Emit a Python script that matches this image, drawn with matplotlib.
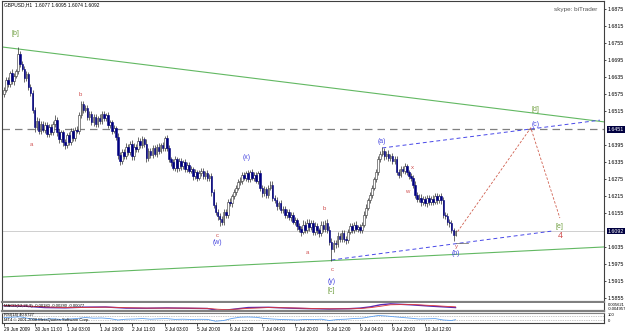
import matplotlib
matplotlib.use("Agg")
import matplotlib.pyplot as plt
import numpy as np
from matplotlib.transforms import blended_transform_factory

plt.rcParams['font.family'] = ['Liberation Sans', 'DejaVu Sans']

# ---------------- data (GBPUSD H1) ----------------
open0 = 1.6575
closes = [
    1.6590, 1.6625, 1.6610, 1.6650, 1.6620, 1.6640, 1.6655, 1.6715, 1.6680, 1.6665,
    1.6630, 1.6645, 1.6600, 1.6580, 1.6520, 1.6460, 1.6480, 1.6445, 1.6470, 1.6450,
    1.6465, 1.6435, 1.6460, 1.6440, 1.6470, 1.6485, 1.6440, 1.6415, 1.6440, 1.6405,
    1.6395, 1.6430, 1.6405, 1.6445, 1.6420, 1.6450, 1.6445, 1.6500, 1.6540, 1.6520,
    1.6525, 1.6495, 1.6505, 1.6475, 1.6495, 1.6470, 1.6490, 1.6480, 1.6505, 1.6490,
    1.6500, 1.6465, 1.6475, 1.6445, 1.6455, 1.6425, 1.6360, 1.6340, 1.6370, 1.6355,
    1.6390, 1.6370, 1.6400, 1.6355, 1.6390, 1.6380, 1.6410, 1.6395, 1.6415, 1.6400,
    1.6350, 1.6375, 1.6360, 1.6385, 1.6365, 1.6390, 1.6375, 1.6395, 1.6385, 1.6420,
    1.6385, 1.6345, 1.6335, 1.6315, 1.6345, 1.6315, 1.6340, 1.6320, 1.6335, 1.6310,
    1.6325, 1.6305, 1.6310, 1.6285, 1.6300, 1.6280, 1.6295, 1.6305, 1.6285, 1.6295,
    1.6280, 1.6285, 1.6230, 1.6185, 1.6160, 1.6145, 1.6135, 1.6125, 1.6160, 1.6150,
    1.6195, 1.6190, 1.6215, 1.6230, 1.6245, 1.6265, 1.6270, 1.6290, 1.6280, 1.6295,
    1.6275, 1.6300, 1.6280, 1.6290, 1.6270, 1.6295, 1.6245, 1.6225, 1.6240, 1.6220,
    1.6245, 1.6255, 1.6210, 1.6200, 1.6180, 1.6190, 1.6165, 1.6170, 1.6150, 1.6160,
    1.6140, 1.6150, 1.6125, 1.6130, 1.6110, 1.6100, 1.6090, 1.6115, 1.6095, 1.6120,
    1.6105, 1.6120, 1.6090, 1.6110, 1.6095, 1.6085, 1.6115, 1.6100, 1.6120, 1.6095,
    1.6055, 1.6030, 1.6050, 1.6045, 1.6075, 1.6065, 1.6085, 1.6065, 1.6060, 1.6090,
    1.6110, 1.6095, 1.6115, 1.6100, 1.6105, 1.6095, 1.6115, 1.6150, 1.6175, 1.6200,
    1.6220, 1.6245, 1.6275, 1.6300, 1.6345, 1.6365, 1.6375, 1.6355, 1.6365, 1.6350,
    1.6355, 1.6340, 1.6345, 1.6300, 1.6290, 1.6310, 1.6305, 1.6320, 1.6300, 1.6285,
    1.6280, 1.6255, 1.6220, 1.6205, 1.6210, 1.6195, 1.6205, 1.6190, 1.6210, 1.6195,
    1.6205, 1.6195, 1.6215, 1.6200, 1.6215, 1.6200, 1.6150, 1.6145, 1.6125, 1.6120,
    1.6095, 1.6077, 1.6092,
]
# upper / lower wick lengths in pips
wick_up = [
    9, 11, 10, 8, 13, 10, 9, 27, 11, 10,
    9, 11, 8, 10, 9, 11, 13, 10, 9, 11,
    10, 12, 9, 11, 10, 15, 9, 11, 10, 8,
    11, 9, 12, 10, 11, 9, 13, 11, 10, 12,
    10, 11, 9, 12, 10, 11, 9, 13, 10, 11,
    9, 11, 8, 10, 12, 9, 14, 11, 10, 13,
    11, 10, 9, 12, 11, 10, 13, 11, 12, 10,
    15, 10, 11, 9, 12, 10, 11, 9, 10, 6,
    12, 11, 9, 10, 12, 9, 11, 10, 9, 11,
    10, 9, 11, 8, 10, 9, 11, 10, 9, 10,
    11, 9, 13, 11, 10, 9, 11, 10, 9, 11,
    10, 12, 9, 11, 10, 9, 12, 11, 10, 8,
    11, 8, 12, 9, 11, 8, 14, 10, 11, 9,
    11, 13, 15, 10, 11, 9, 10, 11, 9, 10,
    10, 9, 11, 10, 9, 11, 10, 16, 11, 13,
    14, 10, 11, 13, 10, 9, 14, 11, 12, 13,
    14, 13, 11, 10, 12, 9, 11, 10, 9, 11,
    12, 11, 10, 12, 9, 11, 10, 13, 11, 10,
    11, 10, 9, 10, 11, 10, 12, 11, 10, 12,
    9, 11, 10, 13, 11, 10, 12, 11, 10, 9,
    11, 10, 12, 9, 11, 13, 10, 11, 9, 10,
    11, 13, 12, 10, 9, 11, 13, 10, 9, 11,
    10, 8, 3,
]
wick_dn = [
    11, 9, 10, 11, 9, 13, 10, 9, 11, 10,
    11, 9, 10, 11, 13, 18, 11, 10, 12, 9,
    11, 10, 13, 9, 11, 10, 12, 11, 10, 13,
    12, 10, 11, 9, 12, 10, 9, 11, 10, 11,
    9, 11, 10, 9, 11, 10, 12, 9, 10, 11,
    10, 9, 11, 10, 9, 11, 13, 14, 11, 10,
    9, 11, 10, 13, 11, 9, 10, 11, 9, 10,
    15, 11, 10, 12, 9, 11, 10, 9, 10, 9,
    11, 10, 12, 9, 11, 13, 10, 11, 9, 10,
    11, 10, 9, 12, 10, 11, 9, 10, 11, 9,
    10, 11, 13, 12, 11, 13, 25, 13, 10, 11,
    11, 9, 12, 10, 11, 9, 10, 11, 9, 10,
    10, 11, 9, 13, 10, 11, 10, 13, 11, 10,
    10, 9, 11, 10, 13, 11, 10, 9, 12, 11,
    10, 11, 9, 12, 13, 11, 14, 10, 11, 10,
    11, 10, 13, 11, 12, 14, 10, 11, 10, 11,
    13, 45, 13, 11, 10, 12, 11, 10, 13, 11,
    10, 11, 10, 9, 12, 10, 11, 10, 11, 10,
    10, 11, 9, 10, 11, 10, 9, 11, 10, 11,
    11, 10, 12, 10, 11, 9, 10, 11, 10, 11,
    10, 11, 12, 10, 11, 13, 10, 11, 12, 10,
    11, 10, 9, 11, 10, 11, 13, 11, 10, 12,
    11, 20, 3,
]

time_ticks = [0, 15, 31, 47, 63, 79, 95, 111, 127, 143, 159, 175, 191, 207]
time_labels = ["29 Jun 2009", "30 Jun 11:00", "1 Jul 03:00", "1 Jul 19:00",
               "2 Jul 11:00", "3 Jul 03:00", "5 Jul 20:00", "6 Jul 12:00",
               "7 Jul 04:00", "7 Jul 20:00", "8 Jul 12:00", "9 Jul 04:00",
               "9 Jul 20:00", "10 Jul 12:00"]
price_ticks = [1.6875, 1.6815, 1.6755, 1.6695, 1.6635, 1.6575, 1.6515,
               1.6395, 1.6335, 1.6275, 1.6215, 1.6155,
               1.6035, 1.5975, 1.5915, 1.5855]
level_price = 1.6451
last_price = 1.6092

# trend lines: (bar index, price) endpoints
green_upper = ([-1, 295], [1.6741, 1.6477])
green_lower = ([-1, 295], [1.5930, 1.6036])
blue_upper = ([186, 293], [1.6385, 1.6483])
blue_lower = ([161, 269.4], [1.5990, 1.6092])
red_path = ([223, 259, 273.3], [1.6090, 1.6456, 1.6138])

# wave labels: (text, bar index, price, colour key, size key)
wave_labels = [
    ("[b]", 5.4, 1.6790, "g", "m"),
    ("b", 37.3, 1.6572, "r", "s"),
    ("a", 13.7, 1.6396, "r", "s"),
    ("(x)", 119.5, 1.6353, "b", "m"),
    ("c", 104.7, 1.6078, "r", "s"),
    ("(w)", 104.7, 1.6050, "b", "m"),
    ("b", 157.3, 1.6170, "r", "s"),
    ("a", 149.4, 1.6015, "r", "s"),
    ("c", 161.2, 1.5955, "r", "s"),
    ("(y)", 161.2, 1.5916, "b", "m"),
    ("[c]", 160.7, 1.5881, "g", "m"),
    ("(a)", 185.8, 1.6406, "b", "m"),
    ("x", 200.6, 1.6315, "r", "s"),
    ("w", 198.1, 1.6233, "r", "s"),
    ("y", 222.7, 1.6038, "r", "s"),
    ("(b)", 222.2, 1.6013, "b", "m"),
    ("(c)", 261.5, 1.6466, "b", "m"),
    ("[d]", 261.5, 1.6519, "g", "m"),
    ("[e]", 273.3, 1.6107, "g", "m"),
    ("4", 273.3, 1.6075, "r", "l"),
]

# indicator readings (MACD in units of 0.001)
macd_idx = [0, 10, 20, 30, 40, 50, 60, 70, 80, 90, 100, 105, 110, 120, 130,
            140, 150, 160, 170, 175, 180, 185, 190, 200, 210, 222]
macd_main = [0.5, 0.2, -0.8, -1.0, -0.5, -0.4, -1.2, -1.3, -1.1, -1.3, -1.5,
             -2.8, -2.5, -0.8, -0.6, -1.2, -1.6, -1.9, -1.6, -1.2, -0.3, 1.2,
             1.9, 1.2, 0.2, -0.8]
macd_signal = [0.6, 0.4, -0.3, -0.8, -0.7, -0.5, -0.9, -1.2, -1.2, -1.2, -1.4,
               -2.0, -2.4, -1.4, -0.8, -1.0, -1.4, -1.7, -1.7, -1.5, -0.9, 0.1,
               1.2, 1.5, 0.7, -0.3]
rsi_idx = [0, 4, 8, 12, 16, 20, 24, 28, 32, 36, 40, 44, 48, 52, 56, 60, 64, 68,
           72, 76, 80, 84, 88, 92, 96, 100, 104, 108, 112, 116, 120, 124, 128,
           132, 136, 140, 144, 148, 152, 156, 160, 164, 168, 172, 176, 180,
           184, 188, 192, 196, 200, 204, 208, 212, 216, 220, 222]
rsi_vals = [55, 58, 62, 45, 35, 38, 42, 36, 40, 45, 55, 48, 50, 44, 30, 38, 40,
            45, 38, 42, 44, 36, 38, 35, 37, 36, 18, 25, 45, 58, 60, 57, 45, 40,
            35, 33, 30, 35, 34, 38, 25, 35, 38, 45, 48, 62, 75, 70, 62, 55, 48,
            40, 42, 44, 30, 25, 33]

assert len(closes) == len(wick_up) == len(wick_dn)

# ---------------- figure ----------------
W, H = 625, 334
fig = plt.figure(figsize=(W / 100, H / 100), dpi=100)
fig.patch.set_facecolor("white")


def frac(l, t, r, b):
    return [l / W, 1 - b / H, (r - l) / W, (b - t) / H]


ax = fig.add_axes(frac(2, 1, 604, 302))
axm = fig.add_axes(frac(2, 303, 604, 311))
axr = fig.add_axes(frac(2, 313, 604, 323))

XL = (-1, 295)
for a in (ax, axm, axr):
    a.set_xlim(*XL)
    a.set_facecolor("white")
    for s in ("left", "right", "top"):
        a.spines[s].set_color("#404040")
        a.spines[s].set_linewidth(0.8)
ax.spines["bottom"].set_color("#808080")
ax.spines["bottom"].set_linewidth(1.6)
axm.spines["bottom"].set_color("#808080")
axm.spines["bottom"].set_linewidth(1.6)
axm.spines["top"].set_visible(False)
axr.spines["top"].set_color("#808080")
axr.spines["top"].set_linewidth(0.8)
axr.spines["bottom"].set_color("#404040")
axr.spines["bottom"].set_linewidth(0.8)

ax.set_ylim(1.5842, 1.6903)

# candles
n = len(closes)
idx = np.arange(n)
c = np.array(closes)
o = np.array([open0] + closes[:-1])
hi = np.maximum(o, c) + np.array(wick_up) * 1e-4
lo = np.minimum(o, c) - np.array(wick_dn) * 1e-4
ax.vlines(idx, lo, hi, color="#303030", lw=0.5, zorder=3)
up = c >= o
bh = np.maximum(np.abs(c - o), 0.0001)
bot = np.minimum(o, c)
ax.bar(idx[up], bh[up], bottom=bot[up], width=0.8, color="white",
       edgecolor="#303030", lw=0.4, zorder=4)
ax.bar(idx[~up], bh[~up], bottom=bot[~up], width=0.8, color="#000080",
       edgecolor="#000080", lw=0.4, zorder=4)

# horizontal levels
ax.axhline(level_price, color="#808080", lw=0.9, dashes=(6, 4), zorder=2)
ax.axhline(last_price, color="#c8c8c8", lw=0.6, zorder=1)

# trend lines
ax.plot(*green_upper, color="#62b862", lw=0.8, zorder=2)
ax.plot(*green_lower, color="#62b862", lw=0.8, zorder=2)
ax.plot(*blue_upper, color="#4848e8", lw=0.7, dashes=(4, 3), zorder=2)
ax.plot(*blue_lower, color="#4848e8", lw=0.7, dashes=(4, 3), zorder=2)
ax.plot(*red_path, color="#d06050", lw=0.6, dashes=(3, 2), zorder=2)
ax.plot([222, 228], [1.6050, 1.6050], color="#606060", lw=0.5, zorder=2)

cols = {"g": "#6f9f3f", "r": "#d05050", "b": "#4a4ae0"}
sizes = {"s": 4.3, "m": 5.0, "l": 6.5}
for t, xi, p, ck, sk in wave_labels:
    ax.text(xi, p, t, color=cols[ck], fontsize=sizes[sk], ha="center",
            va="center", zorder=6)

# price axis
ax.yaxis.tick_right()
ax.set_yticks(price_ticks)
ax.set_yticklabels([f"{v:.4f}" for v in price_ticks])
ax.tick_params(axis="y", length=1.5, width=0.5, labelsize=3.8, pad=1.2,
               colors="black")
ax.set_xticks([])
tr = blended_transform_factory(ax.transAxes, ax.transData)
for v in (level_price, last_price):
    ax.text(1.006, v, f"{v:.4f}", transform=tr, fontsize=3.8, color="white",
            va="center", ha="left",
            bbox=dict(boxstyle="square,pad=0.15", fc="#000040", ec="none"))

fig.text(4 / W, 1 - 5 / H, "GBPUSD,H1  1.6077 1.6095 1.6074 1.6092",
         fontsize=3.5, va="center", ha="left", color="black")
fig.text(597 / W, 1 - 9 / H, "skype: biTrader", fontsize=4.6, va="center",
         ha="right", color="#555555")

# MACD panel
axm.set_ylim(-3.3, 2.5)
axm.plot(macd_idx, macd_main, color="#5a28b0", lw=1.0)
axm.plot(macd_idx, macd_signal, color="#e03a3a", lw=0.6)
axm.set_xticks([])
axm.set_yticks([])
axm.text(0.003, 0.62, "MACD(12,26,9) -0.00180 -0.00280 -0.00077",
         transform=axm.transAxes, fontsize=3.0, va="center", ha="left")
axm.text(1.006, 0.75, "0.005621", transform=axm.transAxes, fontsize=3.0,
         va="center", ha="left")
axm.text(1.006, 0.3, "-0.004957", transform=axm.transAxes, fontsize=3.0,
         va="center", ha="left")

# RSI panel
axr.set_ylim(0, 100)
axr.axhline(70, color="#909090", lw=0.5, ls=(0, (1, 1.5)))
axr.axhline(30, color="#909090", lw=0.5, ls=(0, (1, 1.5)))
axr.plot(rsi_idx, rsi_vals, color="#5a9ef0", lw=0.6)
axr.set_yticks([])
axr.text(0.003, 0.78, "RSI(14) 40.6727", transform=axr.transAxes,
         fontsize=3.0, va="center", ha="left")
axr.text(0.003, 0.32, "MT4 \u00a9 2001-2008 MetaQuotes Software Corp.",
         transform=axr.transAxes, fontsize=3.0, va="center", ha="left")
axr.text(1.006, 0.75, "100", transform=axr.transAxes, fontsize=3.0,
         va="center", ha="left")
axr.text(1.006, 0.25, "0", transform=axr.transAxes, fontsize=3.0,
         va="center", ha="left")
axr.set_xticks(time_ticks)
axr.set_xticklabels(time_labels)
axr.tick_params(axis="x", length=2, width=0.5, labelsize=3.4, pad=1.0)
for lab in axr.get_xticklabels():
    lab.set_ha("left")

fig.savefig("out.png", dpi=100, facecolor="white")
